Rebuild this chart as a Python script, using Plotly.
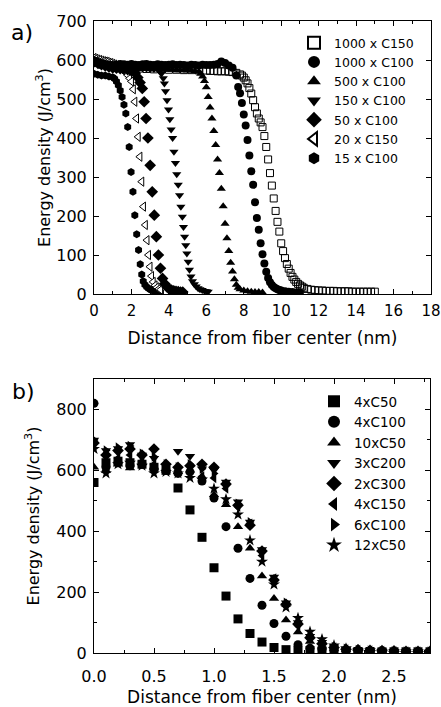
import plotly.graph_objects as go

# ---------------- Panel a data ----------------
a_names = ["1000 x C150", "1000 x C100", "500 x C100", "150 x C100", "50 x C100", "20 x C150", "15 x C100"]

a1_x = [0.0,0.4,0.8,1.2,1.6,2.0,2.4,2.8,3.2,3.6,4.0,4.4,4.8,5.2,5.6,6.0,6.2,6.4,6.6,6.8,7.0,7.2,7.4,7.6,
        7.8,7.9,8.0,8.1,8.2,8.3,8.4,8.5,8.6,8.7,8.8,8.9,9.0,9.1,9.2,9.3,9.4,9.5,9.6,9.7,9.8,9.9,
        10.0,10.1,10.2,10.3,10.4,10.5,10.6,10.7,10.8,10.9,11.0,11.1,11.2,11.4,11.6,11.8,
        12.0,12.2,12.4,12.6,12.8,13.0,13.2,13.4,13.6,13.8,14.0,14.2,14.4,14.6,14.8,15.0]
a1_y = [592,588,585,582,580,579,578,577,576,576,575,575,574,574,573,573,572,572,571,571,571,570,569,567,
        563,560,555,548,540,528,514,497,479,463,450,440,428,405,377,345,310,278,245,213,185,160,
        130,110,92,77,65,54,44,37,31,26,22,19,16,13,11,10,
        9,9,8,8,8,7,7,7,7,6,6,6,6,6,6,6]

a2_x = [0.0,0.2,0.4,0.6,0.8,1.0,1.2,1.4,1.6,1.8,2.0,2.2,2.4,2.6,2.8,3.0,3.2,3.4,3.6,3.8,4.0,4.2,4.4,4.6,4.8,
        5.0,5.2,5.4,5.6,5.8,6.0,6.2,6.4,6.6,6.8,7.0,7.2,7.4,7.6,
        7.7,7.8,7.9,8.0,8.1,8.2,8.3,8.4,8.5,8.6,8.7,8.8,8.9,9.0,9.1,9.2,9.3,9.4,9.5,9.6,9.7,9.8,9.9,10.0,
        10.2,10.4,10.6,10.8,11.0]
a2_y = [598,595,592,590,588,587,588,590,589,588,590,588,587,589,590,588,587,589,588,587,588,589,587,588,587,
        586,588,587,586,588,587,587,588,590,596,592,586,580,560,
        531,515,490,460,432,395,355,315,280,235,195,165,130,102,78,57,41,30,23,18,15,12,10,9,
        7,6,5,4,4]

a3_x = [0.0,0.2,0.4,0.6,0.8,1.0,1.2,1.4,1.6,1.8,2.0,2.2,2.4,2.6,2.8,3.0,3.2,3.4,3.6,3.8,4.0,4.2,4.4,4.6,4.8,
        5.0,5.2,5.4,5.6,
        5.7,5.8,5.9,6.0,6.1,6.2,6.3,6.4,6.5,6.6,6.7,6.8,6.9,7.0,7.1,7.2,7.3,7.4,7.5,7.6,7.7,7.8,
        8.0,8.2,8.4,8.6,8.8,9.0]
a3_y = [600,596,592,588,585,583,581,580,579,579,578,578,577,577,577,576,576,576,575,575,575,575,574,574,574,
        573,573,572,570,
        565,558,546,530,505,478,450,418,382,345,310,270,225,180,143,110,80,58,38,24,16,12,
        9,7,6,5,5,4]

a4_x = [0.0,0.2,0.4,0.6,0.8,1.0,1.2,1.4,1.6,1.8,2.0,2.2,2.4,2.6,2.8,3.0,3.2,3.4,
        3.5,3.6,3.7,3.76,3.82,3.9,3.98,4.05,4.12,4.2,4.27,4.35,4.42,4.5,4.57,4.64,4.72,4.78,4.84,4.9,
        4.96,5.03,5.1,5.18,5.26,5.36,5.46,5.56,5.66,5.78,5.9,6.0,6.1]
a4_y = [602,598,594,590,587,585,583,582,581,580,580,579,579,578,578,577,577,576,
        572,565,553,540,520,497,473,448,422,400,365,336,307,280,253,224,198,172,147,125,
        104,83,62,45,33,25,19,15,12,10,8,7,6]

a5_x = [0.0,0.2,0.4,0.6,0.8,1.0,1.2,1.4,1.6,1.8,2.0,2.2,
        2.34,2.46,2.58,2.68,2.78,2.88,3.0,3.11,3.22,3.33,3.44,3.55,3.66,3.78,3.9,4.02,4.14,4.26,4.38,4.5,4.62,4.74]
a5_y = [596,592,588,585,582,580,579,578,577,575,572,566,
        555,542,527,493,450,400,330,262,202,147,100,66,40,26,18,13,10,8,7,6,5,5]

a6_x = [0.0,0.1,0.2,0.3,0.4,0.5,0.6,0.7,0.8,0.9,1.0,1.1,1.2,1.3,1.4,1.5,1.6,1.7,1.8,1.9,2.0,2.1,
        2.18,2.27,2.36,2.45,2.55,2.64,2.74,2.83,2.91,2.99,3.07,3.16,3.26,3.36,3.46,3.56]
a6_y = [605,603,601,600,598,597,596,595,593,592,590,588,586,583,580,576,572,567,561,553,545,525,
        493,450,403,352,288,224,177,138,100,70,46,31,22,17,13,11]

a7_x = [0.0,0.2,0.4,0.6,0.8,1.0,1.1,1.2,1.3,1.4,1.5,1.6,1.7,1.8,1.88,1.98,2.08,2.18,2.28,2.38,2.47,
        2.55,2.63,2.72,2.82,2.92,3.02,3.12,3.25,3.4,3.55]
a7_y = [565,562,560,560,558,556,552,545,535,522,505,485,463,428,377,313,262,202,153,113,76,
        50,33,24,18,14,11,9,7,6,5]

# ---------------- Panel b data ----------------
b_names = ["4xC50", "4xC100", "10xC50", "3xC200", "2xC300", "4xC150", "6xC100", "12xC50"]
b_x = [0.0,0.1,0.2,0.3,0.4,0.5,0.6,0.7,0.8,0.9,1.0,1.1,1.2,1.3,1.4,1.5,1.6,1.7,1.8,1.9,2.0,
       2.1,2.2,2.3,2.4,2.5,2.6,2.7,2.8]
b1_y = [560,625,630,625,620,610,600,542,470,380,280,187,112,64,36,18,11,9,8,7,6,5,5,5,4,4,4,4,4]
b2_y = [820,610,625,615,620,605,600,590,595,565,509,415,344,245,157,97,55,27,16,12,10,8,7,6,5,5,4,4,4]
b3_y = [610,600,620,608,625,610,600,595,600,580,520,487,415,344,253,179,108,69,38,22,15,11,9,8,7,6,5,5,5]
b4_y = [700,665,672,685,650,640,615,663,646,605,600,562,497,430,340,250,165,100,55,35,20,14,10,8,7,6,5,5,5]
b5_y = [690,650,665,670,650,670,620,610,615,620,610,555,485,420,335,240,160,95,50,30,18,12,10,8,7,6,5,5,5]
b6_y = [680,600,640,650,630,620,600,600,590,580,575,540,480,425,320,245,155,90,55,30,18,12,10,8,7,6,5,5,5]
b7_y = [700,665,675,680,655,645,620,610,620,605,590,550,490,430,330,235,165,100,60,35,20,14,10,8,7,6,5,5,5]
b8_y = [670,590,620,625,615,590,595,590,575,570,540,505,455,370,300,225,150,115,70,45,25,15,10,8,7,6,5,5,5]

FONT = "DejaVu Sans, Arial, sans-serif"
W, H = 441, 707

fig = go.Figure()

a_series = [
    (a1_x, a1_y, dict(symbol="square-open", color="black", size=7, line=dict(color="black", width=1))),
    (a2_x, a2_y, dict(symbol="circle", color="black", size=8)),
    (a3_x, a3_y, dict(symbol="triangle-up", color="black", size=8)),
    (a4_x, a4_y, dict(symbol="triangle-down", color="black", size=8)),
    (a5_x, a5_y, dict(symbol="diamond", color="black", size=9)),
    (a6_x, a6_y, dict(symbol="triangle-left", color="white", size=8, line=dict(color="black", width=1))),
    (a7_x, a7_y, dict(symbol="hexagon", color="black", size=8)),
]
for name, (xs, ys, mk) in reversed(list(zip(a_names, a_series))):
    fig.add_trace(go.Scatter(x=xs, y=ys, mode="markers", name=name, marker=mk,
                             xaxis="x", yaxis="y", legend="legend"))

b_ys = [b1_y, b2_y, b3_y, b4_y, b5_y, b6_y, b7_y, b8_y]
b_syms = ["square", "circle", "triangle-up", "triangle-down", "diamond", "triangle-left", "triangle-right", "star"]
for name, ys, sym in zip(b_names, b_ys, b_syms):
    fig.add_trace(go.Scatter(x=b_x, y=ys, mode="markers", name=name,
                             marker=dict(symbol=sym, color="black", size=9),
                             xaxis="x2", yaxis="y2", legend="legend2"))

def px_x(p):
    return p / W

def px_y(p):
    return 1 - p / H

axis_common = dict(showgrid=False, zeroline=False, showline=True, linecolor="black", linewidth=1,
                   mirror="allticks", ticks="inside", ticklen=5, tickcolor="black", automargin=False)
tf16 = dict(family=FONT, size=16, color="black")
tf15 = dict(family=FONT, size=15, color="black")

fig.update_layout(
    width=W, height=H, margin=dict(l=0, r=0, t=0, b=0),
    paper_bgcolor="white", plot_bgcolor="white",
    font=dict(family=FONT, color="black"),
    showlegend=True,
    xaxis=dict(domain=[px_x(94), px_x(431)], range=[0, 18], dtick=2, anchor="y",
               minor=dict(dtick=1, ticks="inside", ticklen=3, tickcolor="black"),
               tickfont=tf15, ticklabelstandoff=3, ticklabeloverflow="allow",
               title=dict(text="Distance from fiber center (nm)", font=dict(family=FONT, size=17), standoff=13),
               **axis_common),
    yaxis=dict(domain=[px_y(294), px_y(21)], range=[0, 700], dtick=100, anchor="x",
               tickfont=tf16, ticklabelstandoff=3,
               title=dict(text="Energy density (J/cm<sup>3</sup>)", font=dict(family=FONT, size=16), standoff=1),
               **axis_common),
    xaxis2=dict(domain=[px_x(94), px_x(430)], range=[0, 2.8], dtick=0.5, tickformat=".1f", anchor="y2",
                minor=dict(dtick=0.25, ticks="inside", ticklen=3, tickcolor="black"),
                tickfont=tf16, ticklabelstandoff=9, ticklabeloverflow="allow",
                title=dict(text="Distance from fiber center (nm)", font=dict(family=FONT, size=17), standoff=15),
                **axis_common),
    yaxis2=dict(domain=[px_y(653), px_y(379)], range=[0, 900], dtick=200, anchor="x2",
                minor=dict(dtick=100, ticks="inside", ticklen=3, tickcolor="black"),
                tickfont=tf16, ticklabelstandoff=3,
                title=dict(text="Energy density (J/cm<sup>3</sup>)", font=dict(family=FONT, size=16), standoff=12),
                **axis_common),
    legend=dict(x=px_x(294), y=px_y(28), xanchor="left", yanchor="top", traceorder="reversed",
                font=dict(family=FONT, size=12.5), bgcolor="rgba(0,0,0,0)", itemsizing="constant",
                tracegroupgap=0),
    legend2=dict(x=px_x(314), y=px_y(386), xanchor="left", yanchor="top",
                 font=dict(family=FONT, size=13.5), bgcolor="rgba(0,0,0,0)", itemsizing="constant",
                 tracegroupgap=0),
    annotations=[
        dict(text="a)", x=px_x(22), y=px_y(33), xref="paper", yref="paper", showarrow=False,
             xanchor="center", yanchor="middle",
             font=dict(family=FONT, size=22, color="black")),
        dict(text="b)", x=px_x(23), y=px_y(391), xref="paper", yref="paper", showarrow=False,
             xanchor="center", yanchor="middle",
             font=dict(family=FONT, size=22, color="black")),
    ],
)

fig.write_html("out.html", config={"displayModeBar": False},
               post_script="document.body.style.margin='0';document.body.style.overflow='hidden';")
